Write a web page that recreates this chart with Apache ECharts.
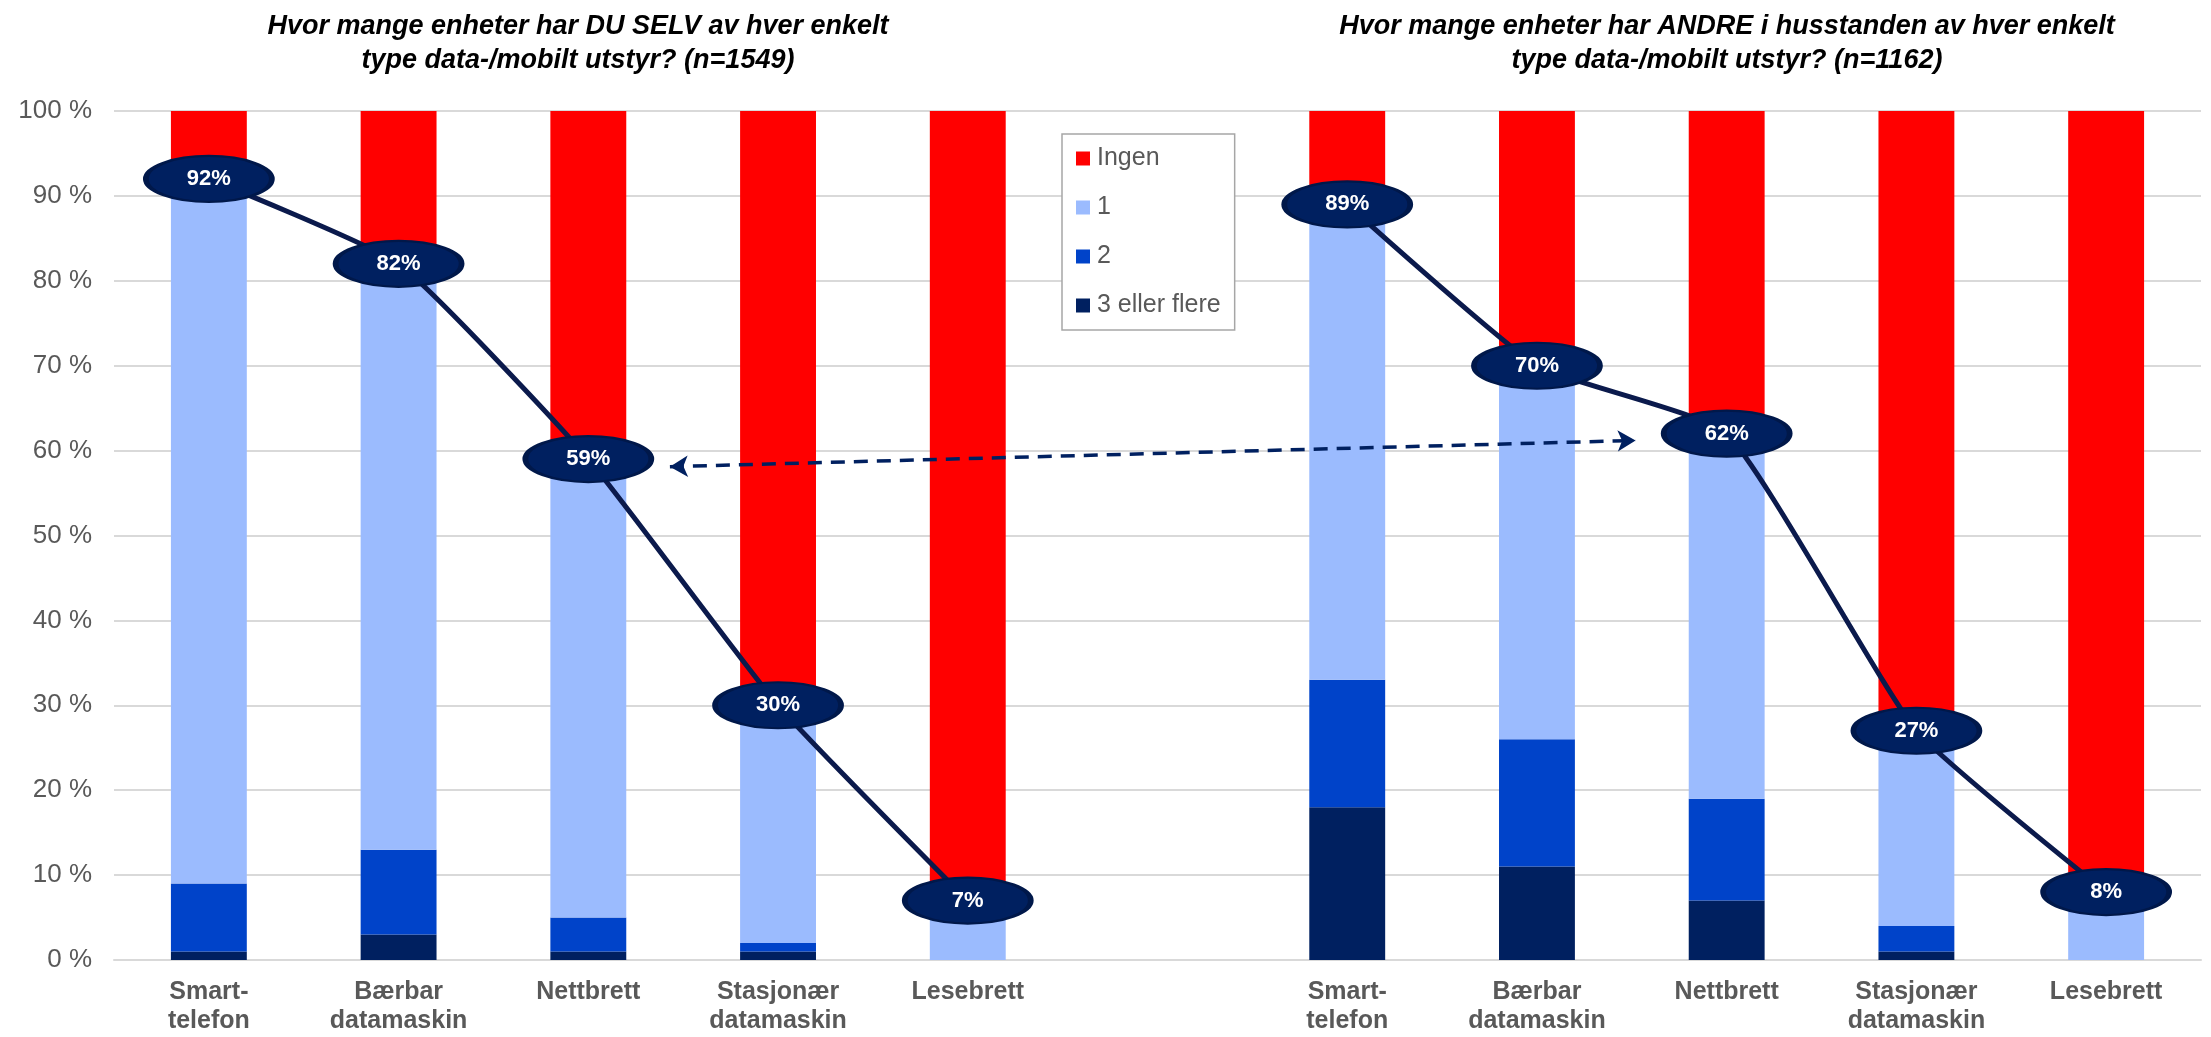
<!DOCTYPE html>
<html>
<head>
<meta charset="utf-8">
<script src="https://cdn.jsdelivr.net/npm/echarts@6/dist/echarts.min.js"></script>
<style>html,body{margin:0;padding:0;background:#fff}#c{width:2211px;height:1037px}</style>
</head>
<body>
<div id="c"></div>
<script>
// Categories: 5 for "DU SELV", one empty gap slot, 5 for "ANDRE"
const categories = ['Smart-\ntelefon','Bærbar\ndatamaskin','Nettbrett','Stasjonær\ndatamaskin','Lesebrett','',
                    'Smart-\ntelefon','Bærbar\ndatamaskin','Nettbrett','Stasjonær\ndatamaskin','Lesebrett'];
// Stack values (percent), bottom to top
const threePlus = [1, 3, 1, 1, 0, null, 18, 11, 7, 1, 0];
const two       = [8, 10, 4, 1, 0, null, 15, 15, 12, 3, 0];
const one       = [83, 69, 54, 28, 7, null, 56, 44, 43, 23, 8];
const ingen     = [8, 18, 41, 70, 93, null, 11, 30, 38, 73, 92];
// Share with at least one device (line labels)
const anyDevice = [92, 82, 59, 30, 7, null, 89, 70, 62, 27, 8];
// Dashed comparison arrow (category-index position, percent)
const arrowFrom = [2.43, 58.1];
const arrowTo   = [7.52, 61.2];
const yTicks = {min: 0, max: 100, interval: 10};
const titles = [
  'Hvor mange enheter har DU SELV av hver enkelt\ntype data-/mobilt utstyr? (n=1549)',
  'Hvor mange enheter har ANDRE i husstanden av hver enkelt\ntype data-/mobilt utstyr? (n=1162)'
];

const C_INGEN = '#FF0000', C_ONE = '#9BBBFE', C_TWO = '#0043C9', C_THREE = '#002060', C_NAVY = '#0B1A4C';
const gray = '#595959';
const FONT = '"Liberation Sans", Arial, sans-serif';

const chart = echarts.init(document.getElementById('c'));
const barCommon = {type: 'bar', stack: 'tot', barWidth: '40%', xAxisIndex: 0, yAxisIndex: 0};
chart.setOption({
  animation: false,
  textStyle: {fontFamily: FONT},
  title: titles.map((t, i) => ({
    text: t, left: i === 0 ? 573 : 1722, top: 5, textAlign: 'center',
    textStyle: {fontFamily: FONT, fontSize: 27, fontWeight: 'bold', fontStyle: 'italic', color: '#000', lineHeight: 34}
  })),
  grid: {left: 114, right: 10, top: 111, bottom: 77, containLabel: false},
  legend: {
    orient: 'vertical', left: 1062, top: 134, padding: [12, 14, 12, 14],
    data: ['Ingen', '1', '2', '3 eller flere'],
    itemWidth: 14, itemHeight: 14, itemGap: 24, icon: 'rect',
    borderColor: '#A6A6A6', borderWidth: 1.5, backgroundColor: '#fff',
    textStyle: {fontFamily: FONT, fontSize: 25, color: gray, padding: [0, 0, 0, 2]}
  },
  xAxis: [{
    type: 'category', data: categories,
    axisLine: {lineStyle: {color: '#D9D9D9', width: 2}},
    axisTick: {show: false},
    axisLabel: {interval: 0, margin: 18, fontFamily: FONT, fontSize: 25, fontWeight: 'bold', color: gray, lineHeight: 29}
  }, {
    type: 'value', min: -0.5, max: 10.5, show: false
  }],
  yAxis: [{
    type: 'value', min: yTicks.min, max: yTicks.max, interval: yTicks.interval,
    axisLine: {show: false}, axisTick: {show: false},
    axisLabel: {formatter: '{value} %', fontFamily: FONT, fontSize: 26, color: gray, margin: 22},
    splitLine: {lineStyle: {color: '#D9D9D9', width: 2}}
  }],
  series: [
    Object.assign({}, barCommon, {name: '3 eller flere', data: threePlus, itemStyle: {color: C_THREE}}),
    Object.assign({}, barCommon, {name: '2', data: two, itemStyle: {color: C_TWO}}),
    Object.assign({}, barCommon, {name: '1', data: one, itemStyle: {color: C_ONE}}),
    Object.assign({}, barCommon, {name: 'Ingen', data: ingen, itemStyle: {color: C_INGEN}}),
    {
      type: 'line', name: 'any', data: anyDevice, smooth: 0.15, connectNulls: false, z: 5,
      lineStyle: {color: C_NAVY, width: 5},
      symbol: 'circle', symbolSize: [126, 46],
      itemStyle: {color: '#002060', borderColor: '#00184A', borderWidth: 3.5},
      label: {show: true, position: 'inside', formatter: p => p.value + '%', color: '#fff',
              fontFamily: FONT, fontWeight: 'bold', fontSize: 22}
    },
    {
      type: 'line', name: 'arrow', xAxisIndex: 1, yAxisIndex: 0, data: [], z: 4,
      markLine: {
        silent: true, symbol: ['arrow', 'arrow'], symbolSize: [16, 18],
        label: {show: false},
        lineStyle: {type: [14, 9], color: '#002060', width: 3.5},
        data: [[{coord: arrowFrom}, {coord: arrowTo}]]
      }
    }
  ]
});
</script>
</body>
</html>
